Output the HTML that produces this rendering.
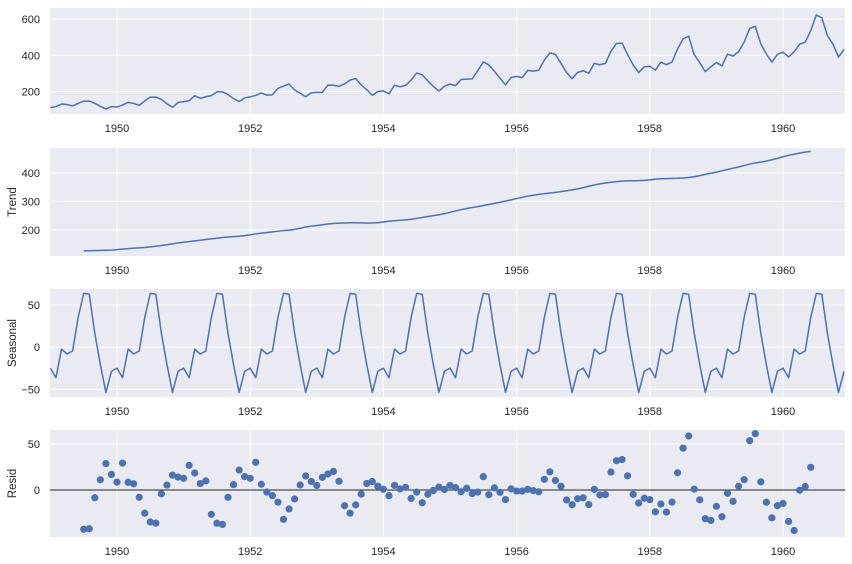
<!DOCTYPE html>
<html><head><meta charset="utf-8"><style>
html,body{margin:0;padding:0;background:#fff;}
svg{display:block;font-family:"Liberation Sans","DejaVu Sans",sans-serif;}
</style></head><body>
<svg id="fig" width="852" height="564"></svg>
<script>
const observed=[112,118,132,129,121,135,148,148,136,119,104,118,
115,126,141,135,125,149,170,170,158,133,114,140,
145,150,178,163,172,178,199,199,184,162,146,166,
171,180,193,181,183,218,230,242,209,191,172,194,
196,196,236,235,229,243,264,272,237,211,180,201,
204,188,235,227,234,264,302,293,259,229,203,229,
242,233,267,269,270,315,364,347,312,274,237,278,
284,277,317,313,318,374,413,405,355,306,271,306,
315,301,356,348,355,422,465,467,404,347,305,336,
340,318,362,348,363,435,491,505,404,359,310,337,
360,342,406,396,420,472,548,559,463,407,362,405,
417,391,419,461,472,535,622,606,508,461,390,432];
const seasonalMonthly=[-24.75,-36.19,-2.24,-8.04,-4.51,35.40,63.83,62.82,16.52,-20.64,-53.59,-28.62];
const xTickLabels=["1950","1952","1954","1956","1958","1960"];
const yTicks1=[200,400,600];
const yTicks2=[200,300,400];
const yTicks3=[-50,0,50];
const yTicks4=[0,50];

// derived series (classical additive decomposition)
const trend=observed.map((v,i)=>{
  if(i<6||i>observed.length-7) return null;
  let s=0.5*observed[i-6]+0.5*observed[i+6];
  for(let k=-5;k<=5;k++) s+=observed[i+k];
  return s/12;
});
const seasonal=observed.map((v,i)=>seasonalMonthly[i%12]);
const resid=observed.map((v,i)=>trend[i]==null?null:v-trend[i]-seasonal[i]);

const NS="http://www.w3.org/2000/svg";
const svg=document.getElementById('fig');
function el(tag,attrs,parent){const e=document.createElementNS(NS,tag);for(const k in attrs)e.setAttribute(k,attrs[k]);(parent||svg).appendChild(e);return e;}
const L=50,R=845;
function xOf(i){return 50.4+(i/12)*66.6;}
function xYear(y){return 50.4+(y-1949)*66.6;}

const panels=[
 {name:'observed',top:8,bot:114,vmin:77,vmax:660,ticks:yTicks1,label:'',data:observed,type:'line'},
 {name:'trend',top:148,bot:256,vmin:109,vmax:487,ticks:yTicks2,label:'Trend',data:trend,type:'line'},
 {name:'seasonal',top:289,bot:397,vmin:-59,vmax:69,ticks:yTicks3,label:'Seasonal',data:seasonal,type:'line'},
 {name:'resid',top:430,bot:537,vmin:-51,vmax:65,ticks:yTicks4,label:'Resid',data:resid,type:'scatter'}
];
panels.forEach(p=>{
  const g=el('g',{});
  
  
  const yOf=v=>p.bot-(v-p.vmin)/(p.vmax-p.vmin)*(p.bot-p.top);
  const bg=el('rect',{x:L,y:p.top,width:R-L,height:p.bot-p.top,fill:'#eaeaf2'},g);
  
  
  xTickLabels.forEach(t=>{
    const x=xYear(+t);
    const gl=el('line',{x1:x,x2:x,y1:p.top,y2:p.bot,stroke:'#fff','stroke-width':1},g);
    
    
    const tx=el('text',{x:x,y:p.bot+18,'font-size':11,fill:'#262626','text-anchor':'middle'},g);
    tx.textContent=t;
    
    
  });
  p.ticks.forEach(t=>{
    const y=yOf(t);
    const gl=el('line',{x1:L,x2:R,y1:y,y2:y,stroke:'#fff','stroke-width':1},g);
    
    
    const tx=el('text',{x:L-10,y:y+4,'font-size':11,fill:'#262626','text-anchor':'end'},g);
    tx.textContent=t<0?'\u2212'+Math.abs(t):String(t);
    
    
  });
  if(p.label){
    const cy=(p.top+p.bot)/2;
    const tx=el('text',{x:0,y:0,'font-size':11.5,fill:'#262626','text-anchor':'middle',transform:`translate(16,${cy}) rotate(-90)`},g);
    tx.textContent=p.label;
    
    
  }
  const clipId='clip-'+p.name;
  const cp=el('clipPath',{id:clipId},g);
  el('rect',{x:L,y:p.top,width:R-L,height:p.bot-p.top},cp);
  const cg=el('g',{'clip-path':`url(#${clipId})`},g);
  if(p.type==='line'){
    let d='';let started=false;
    p.data.forEach((v,i)=>{if(v==null){started=false;return;}d+=(started?'L':'M')+xOf(i).toFixed(2)+','+yOf(v).toFixed(2);started=true;});
    const path=el('path',{d:d,fill:'none',stroke:'#4c72b0','stroke-width':1.5,'stroke-linejoin':'round'},cg);
    
    
  } else {
    const zl=el('line',{x1:L,x2:R,y1:yOf(0),y2:yOf(0),stroke:'#262626','stroke-width':1},cg);
    
    
    p.data.forEach((v,i)=>{
      if(v==null) return;
      const c=el('circle',{cx:xOf(i),cy:yOf(v),r:3.6,fill:'#4c72b0'},cg);
      
      
    });
  }
});
</script>
</body></html>
